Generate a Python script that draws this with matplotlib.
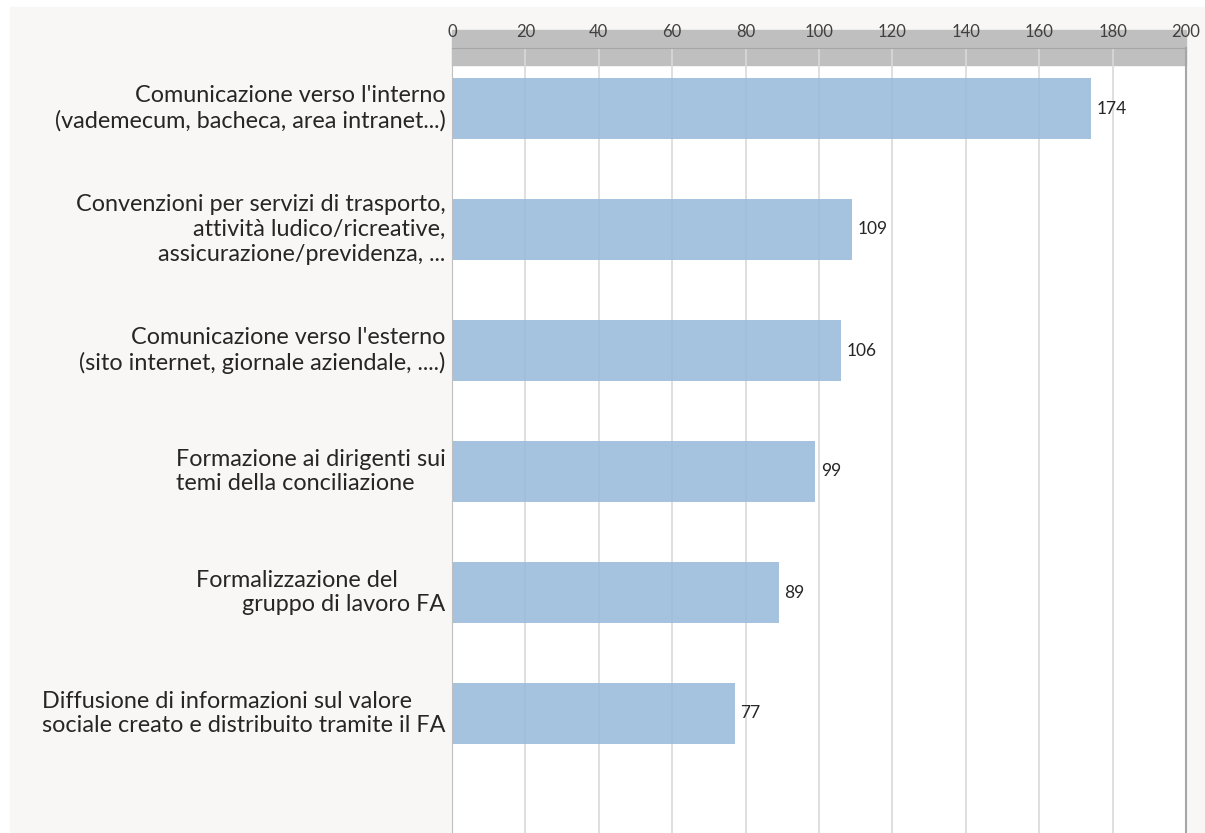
import matplotlib
matplotlib.use("Agg")
import matplotlib.pyplot as plt
from matplotlib.patches import Rectangle

# data, top to bottom
categories = [
    "Comunicazione verso l'interno\n(vademecum, bacheca, area intranet...)",
    "Convenzioni per servizi di trasporto,\nattività ludico/ricreative,\nassicurazione/previdenza, ...",
    "Comunicazione verso l'esterno\n(sito internet, giornale aziendale, ....)",
    "Formazione ai dirigenti sui\ntemi della conciliazione",
    "Formalizzazione del        \ngruppo di lavoro FA",
    "Diffusione di informazioni sul valore\nsociale creato e distribuito tramite il FA",
]
values = [174, 109, 106, 99, 89, 77]
label_align = ["right", "right", "right", "left", "right", "left"]
x_ticks = [0, 20, 40, 60, 80, 100, 120, 140, 160, 180, 200]

W, H = 1205, 833
FONT = "Lato"
TEXT = "#262626"

fig = plt.figure(figsize=(W / 100, H / 100), dpi=100, facecolor="white")

# off-white chart area
fig.patches.append(Rectangle((10 / W, 0), (W - 10) / W, (H - 7) / H,
                             transform=fig.transFigure, color="#F8F7F5", zorder=-10))

left, right, top = 452 / W, 1186 / W, 1 - 48 / H
ax = fig.add_axes([left, 0, right - left, top])
ax.set_facecolor("white")

slot = 121  # px per category
ax.set_ylim(-0.5 + (H - 48) / slot, -0.5)
ax.set_xlim(0, 200)

# grey band across the top of the plot
ax.add_patch(Rectangle((left, 1 - 65 / H), right - left, 35 / H,
                       transform=fig.transFigure, color="#BFBFBF",
                       clip_on=False, zorder=0.3))

ax.set_axisbelow(True)
ax.grid(axis="x", color="#D9D9D9", linewidth=1.2)
ax.grid(axis="y", visible=False)

ypos = list(range(len(values)))
ax.barh(ypos, values, height=0.5, color="#9BBCDC", alpha=0.9, zorder=1)

for y, v in zip(ypos, values):
    ax.annotate(str(v), (v, y), xytext=(4, 0), textcoords="offset points",
                ha="left", va="center", fontsize=12.5, color=TEXT, family=FONT)

for y, lab, al in zip(ypos, categories, label_align):
    ax.text(-0.009, y, lab, transform=ax.get_yaxis_transform(),
            ha="right", va="center", multialignment=al,
            fontsize=16.8, color=TEXT, family=FONT, linespacing=1.22)

ax.set_yticks([])
ax.xaxis.tick_top()
ax.set_xticks(x_ticks)
ax.set_xticklabels([str(t) for t in x_ticks], fontsize=12, color="#404040", family=FONT)
ax.tick_params(axis="x", length=0, pad=6)

ax.spines["bottom"].set_visible(False)
ax.spines["top"].set_color("#A6A6A6")
ax.spines["left"].set_color("#BFBFBF")
ax.spines["right"].set_color("#A6A6A6")
ax.spines["right"].set_linewidth(1.5)

fig.savefig("out.png", dpi=100, facecolor="white")
